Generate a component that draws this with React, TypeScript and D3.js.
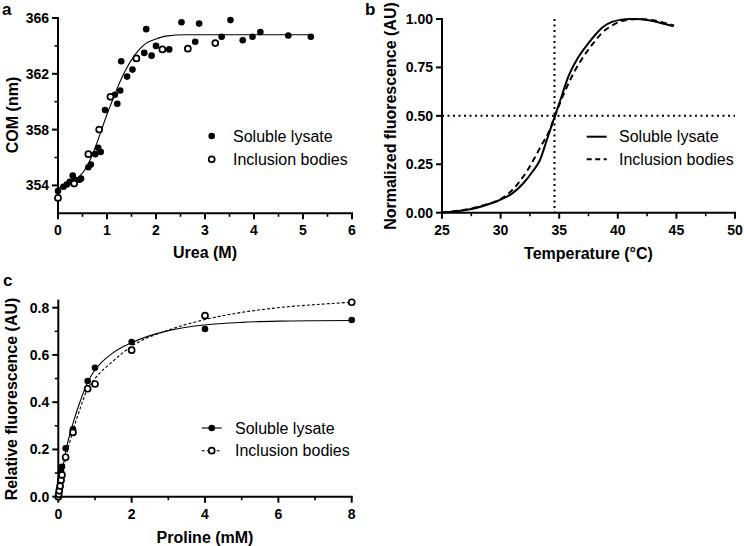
import React from "react";
import * as d3 from "d3";

const FONT = "'Liberation Sans', Arial, Helvetica, sans-serif";

// ---------- Panel a: COM vs urea ----------
const ureaSoluble = [0, 0.11, 0.18, 0.24, 0.3, 0.35, 0.44, 0.47, 0.62, 0.67, 0.76, 0.82, 0.87, 0.96, 1.16, 1.21, 1.27, 1.29, 1.41, 1.52, 1.76, 1.8, 1.91, 2.0, 2.27, 2.52, 2.8, 2.88, 3.34, 3.52, 3.77, 3.97, 4.13, 4.7, 5.16];
const comSoluble = [353.6, 353.9, 354.06, 354.25, 354.7, 354.4, 354.4, 354.5, 355.3, 355.5, 356.24, 356.69, 356.4, 359.4, 360.5, 359.85, 360.8, 362.9, 361.8, 362.3, 363.5, 365.2, 363.3, 364.0, 363.75, 365.7, 364.3, 365.6, 364.66, 365.85, 364.4, 364.66, 365.0, 364.75, 364.66];
const ureaInclusion = [0, 0.33, 0.62, 0.84, 1.07, 1.6, 2.13, 2.65, 3.21];
const comInclusion = [353.1, 354.13, 356.24, 358.0, 360.35, 363.1, 363.75, 363.8, 364.2];
const ureaFit = [0, 0.2, 0.4, 0.6, 0.7, 0.8, 0.9, 1.0, 1.1, 1.2, 1.3, 1.4, 1.5, 1.6, 1.7, 1.8, 2.0, 2.2, 2.6, 3.2, 4.2, 5.16];
const comFit = [353.8, 354.05, 354.5, 355.4, 356.2, 357.1, 358.1, 359.1, 360.0, 360.9, 361.7, 362.4, 363.0, 363.5, 363.9, 364.2, 364.5, 364.7, 364.8, 364.8, 364.8, 364.8];
const ureaTicks = [0, 1, 2, 3, 4, 5, 6];
const ureaMinor = [0.5, 1.5, 2.5, 3.5, 4.5, 5.5];
const comTicks = [354, 358, 362, 366];
const comMinor = [356, 360, 364];

// ---------- Panel b: melting curves ----------
const tempSoluble = [25, 26, 27.4, 28.5, 29.95, 31, 31.94, 32.7, 33.36, 34, 34.64, 35.2, 35.78, 36.6, 37.48, 38.1, 38.76, 39.5, 40.19, 41.0, 41.6, 42.5, 43.5, 44.74];
const fluorSoluble = [0.002, 0.006, 0.018, 0.035, 0.066, 0.1, 0.152, 0.21, 0.272, 0.386, 0.5, 0.6, 0.702, 0.8, 0.874, 0.92, 0.96, 0.985, 0.995, 1.0, 1.0, 0.995, 0.982, 0.962];
const tempInclusion = [25, 26, 27.4, 28.5, 29.95, 30.7, 31.5, 32.2, 32.8, 33.5, 34.13, 34.64, 35.3, 36.07, 36.9, 37.9, 38.6, 39.33, 40.0, 40.76, 41.9, 43.0, 44.0, 44.8];
const fluorInclusion = [0.002, 0.007, 0.02, 0.038, 0.068, 0.1, 0.152, 0.21, 0.272, 0.35, 0.418, 0.5, 0.6, 0.702, 0.79, 0.874, 0.925, 0.96, 0.982, 0.995, 1.0, 0.993, 0.98, 0.966];
const tmValue = 34.6;
const halfValue = 0.5;
const tempTicks = [25, 30, 35, 40, 45, 50];
const tempMinor = [27.5, 32.5, 37.5, 42.5, 47.5];
const fluorTicks = [0, 0.25, 0.5, 0.75, 1.0];

// ---------- Panel c: proline titration ----------
const prolineConc = [0, 0.0125, 0.025, 0.05, 0.075, 0.1, 0.2, 0.4, 0.8, 1, 2, 4, 8];
const relSoluble = [0, 0.015, 0.035, 0.06, 0.105, 0.127, 0.205, 0.285, 0.49, 0.546, 0.655, 0.71, 0.748];
const relInclusion = [0, 0.01, 0.025, 0.045, 0.07, 0.092, 0.167, 0.272, 0.457, 0.477, 0.62, 0.766, 0.823];
const prolineFit = [0, 0.05, 0.1, 0.2, 0.4, 0.6, 0.8, 1, 1.5, 2, 3, 4, 5, 6, 7, 8];
const relSolubleFit = [0, 0.055, 0.1, 0.19, 0.31, 0.405, 0.485, 0.536, 0.61, 0.652, 0.703, 0.727, 0.738, 0.743, 0.745, 0.746];
const relInclusionFit = [0, 0.045, 0.085, 0.16, 0.28, 0.375, 0.457, 0.5, 0.575, 0.637, 0.705, 0.75, 0.78, 0.8, 0.813, 0.823];
const prolineTicks = [0, 2, 4, 6, 8];
const prolineMinor = [1, 3, 5, 7];
const relTicks = [0, 0.2, 0.4, 0.6, 0.8];
const relMinor = [0.1, 0.3, 0.5, 0.7];

const seriesNames = ["Soluble lysate", "Inclusion bodies"];

type Scale = d3.ScaleLinear<number, number>;

function AxisBottom({ x, y, major, minor, fmt }: { x: Scale; y: number; major: number[]; minor: number[]; fmt: (v: number) => string }) {
  const [a, b] = x.range();
  return (
    <g>
      <line x1={a - 1} x2={b + 1} y1={y} y2={y} stroke="#000" strokeWidth={2} />
      {major.map((v) => (
        <g key={"M" + v}>
          <line x1={x(v)} x2={x(v)} y1={y} y2={y + 6} stroke="#000" strokeWidth={2} />
          <text x={x(v)} y={y + 22} textAnchor="middle" fontFamily={FONT} fontWeight="bold" fontSize={14}>{fmt(v)}</text>
        </g>
      ))}
      {minor.map((v) => (
        <line key={"m" + v} x1={x(v)} x2={x(v)} y1={y} y2={y + 3.5} stroke="#000" strokeWidth={1.6} />
      ))}
    </g>
  );
}

function AxisLeft({ y, x, major, minor, fmt }: { y: Scale; x: number; major: number[]; minor: number[]; fmt: (v: number) => string }) {
  const [a, b] = y.range();
  return (
    <g>
      <line x1={x} x2={x} y1={a + 1} y2={b - 1} stroke="#000" strokeWidth={2} />
      {major.map((v) => (
        <g key={"M" + v}>
          <line x1={x - 6} x2={x} y1={y(v)} y2={y(v)} stroke="#000" strokeWidth={2} />
          <text x={x - 9} y={y(v) + 5} textAnchor="end" fontFamily={FONT} fontWeight="bold" fontSize={14}>{fmt(v)}</text>
        </g>
      ))}
      {minor.map((v) => (
        <line key={"m" + v} x1={x - 3.5} x2={x} y1={y(v)} y2={y(v)} stroke="#000" strokeWidth={1.6} />
      ))}
    </g>
  );
}

function Title({ x, y, text, rotate }: { x: number; y: number; text: string; rotate?: boolean }) {
  return (
    <text
      x={x}
      y={y}
      textAnchor="middle"
      fontFamily={FONT}
      fontWeight="bold"
      fontSize={16}
      dominantBaseline="central"
      transform={rotate ? `rotate(-90 ${x} ${y})` : undefined}
    >
      {text}
    </text>
  );
}

function PanelLabel({ x, y, t }: { x: number; y: number; t: string }) {
  return (
    <text x={x} y={y} fontFamily={FONT} fontWeight="bold" fontSize={17}>{t}</text>
  );
}

function LegendText({ x, y, t }: { x: number; y: number; t: string }) {
  return (
    <text x={x} y={y + 5.5} fontFamily={FONT} fontSize={16}>{t}</text>
  );
}

export default function App() {
  // Panel a scales
  const xa = d3.scaleLinear().domain([0, 6]).range([58, 352]);
  const ya = d3.scaleLinear().domain([352, 366]).range([213.3, 18]);
  const lineA = d3
    .line<number>()
    .x((_, i) => xa(ureaFit[i]))
    .y((d) => ya(d))
    .curve(d3.curveMonotoneX);

  // Panel b scales
  const xb = d3.scaleLinear().domain([25, 50]).range([442, 735]);
  const yb = d3.scaleLinear().domain([0, 1]).range([212.7, 19]);
  const lineBs = d3
    .line<number>()
    .x((_, i) => xb(tempSoluble[i]))
    .y((d) => yb(d))
    .curve(d3.curveMonotoneX);
  const lineBi = d3
    .line<number>()
    .x((_, i) => xb(tempInclusion[i]))
    .y((d) => yb(d))
    .curve(d3.curveMonotoneX);

  // Panel c scales
  const xc = d3.scaleLinear().domain([0, 8]).range([58.3, 351.7]);
  const yc = d3.scaleLinear().domain([0, 0.83]).range([496.7, 300.6]);
  const lineC = d3
    .line<number>()
    .x((_, i) => xc(prolineFit[i]))
    .y((d) => yc(d))
    .curve(d3.curveMonotoneX);

  const fmtInt = (v: number) => d3.format("d")(v);
  const fmt2 = (v: number) => d3.format(".2f")(v);
  const fmt1 = (v: number) => d3.format(".1f")(v);

  return (
    <svg width={744} height={546} style={{ position: "fixed", left: 0, top: 0, background: "#fff" }}>
      <rect width={744} height={546} fill="#fff" />

      {/* ----- Panel a ----- */}
      <PanelLabel x={2} y={15} t="a" />
      <path d={lineA(comFit) || ""} fill="none" stroke="#000" strokeWidth={1.1} />
      <AxisBottom x={xa} y={213.3} major={ureaTicks} minor={ureaMinor} fmt={fmtInt} />
      <AxisLeft y={ya} x={58} major={comTicks} minor={comMinor} fmt={fmtInt} />
      {ureaSoluble.map((u, i) => (
        <circle key={"as" + i} cx={xa(u)} cy={ya(comSoluble[i])} r={3.3} fill="#000" />
      ))}
      {ureaInclusion.map((u, i) => (
        <circle key={"ai" + i} cx={xa(u)} cy={ya(comInclusion[i])} r={3} fill="#fff" stroke="#000" strokeWidth={1.7} />
      ))}
      <Title x={205} y={252} text="Urea (M)" />
      <Title x={12} y={115} text="COM (nm)" rotate />
      <circle cx={211.7} cy={136} r={3.3} fill="#000" />
      <circle cx={211.7} cy={159.3} r={3} fill="#fff" stroke="#000" strokeWidth={1.7} />
      <LegendText x={233} y={136} t={seriesNames[0]} />
      <LegendText x={233} y={159.3} t={seriesNames[1]} />

      {/* ----- Panel b ----- */}
      <PanelLabel x={365} y={15} t="b" />
      <line x1={xb(tmValue)} x2={xb(tmValue)} y1={yb(1)} y2={yb(0)} stroke="#000" strokeWidth={2} strokeDasharray="2,3.5" />
      <line x1={xb(25)} x2={xb(50)} y1={yb(halfValue)} y2={yb(halfValue)} stroke="#000" strokeWidth={2} strokeDasharray="2,3.5" />
      <path d={lineBs(fluorSoluble) || ""} fill="none" stroke="#000" strokeWidth={2} />
      <path d={lineBi(fluorInclusion) || ""} fill="none" stroke="#000" strokeWidth={2} strokeDasharray="6,4" />
      <AxisBottom x={xb} y={212.7} major={tempTicks} minor={tempMinor} fmt={fmtInt} />
      <AxisLeft y={yb} x={442} major={fluorTicks} minor={[]} fmt={fmt2} />
      <Title x={588.5} y={253} text="Temperature (°C)" />
      <Title x={390} y={116} text="Normalized fluorescence (AU)" rotate />
      <line x1={586.7} x2={606.7} y1={136.7} y2={136.7} stroke="#000" strokeWidth={2} />
      <line x1={586.7} x2={606.7} y1={159.3} y2={159.3} stroke="#000" strokeWidth={2} strokeDasharray="5,3.5" />
      <LegendText x={619} y={136.7} t={seriesNames[0]} />
      <LegendText x={619} y={159.3} t={seriesNames[1]} />

      {/* ----- Panel c ----- */}
      <PanelLabel x={3} y={286} t="c" />
      <path d={lineC(relInclusionFit) || ""} fill="none" stroke="#000" strokeWidth={1.1} strokeDasharray="3,2" />
      <path d={lineC(relSolubleFit) || ""} fill="none" stroke="#000" strokeWidth={1.1} />
      <AxisBottom x={xc} y={496.7} major={prolineTicks} minor={prolineMinor} fmt={fmtInt} />
      <AxisLeft y={yc} x={58.3} major={relTicks} minor={relMinor} fmt={fmt1} />
      {prolineConc.map((p, i) => (
        <circle key={"cs" + i} cx={xc(p)} cy={yc(relSoluble[i])} r={3.3} fill="#000" />
      ))}
      {prolineConc.map((p, i) => (
        <circle key={"ci" + i} cx={xc(p)} cy={yc(relInclusion[i])} r={3} fill="#fff" stroke="#000" strokeWidth={1.7} />
      ))}
      <Title x={205} y={537} text="Proline (mM)" />
      <Title x={11} y={399} text="Relative fluorescence (AU)" rotate />
      <line x1={201.7} x2={221.7} y1={428} y2={428} stroke="#000" strokeWidth={1.1} />
      <circle cx={211.7} cy={428} r={3.3} fill="#000" />
      <line x1={201.7} x2={221.7} y1={450.7} y2={450.7} stroke="#000" strokeWidth={1.1} strokeDasharray="3,2" />
      <circle cx={211.7} cy={450.7} r={3} fill="#fff" stroke="#000" strokeWidth={1.7} />
      <LegendText x={235} y={428} t={seriesNames[0]} />
      <LegendText x={235} y={450.7} t={seriesNames[1]} />
    </svg>
  );
}
